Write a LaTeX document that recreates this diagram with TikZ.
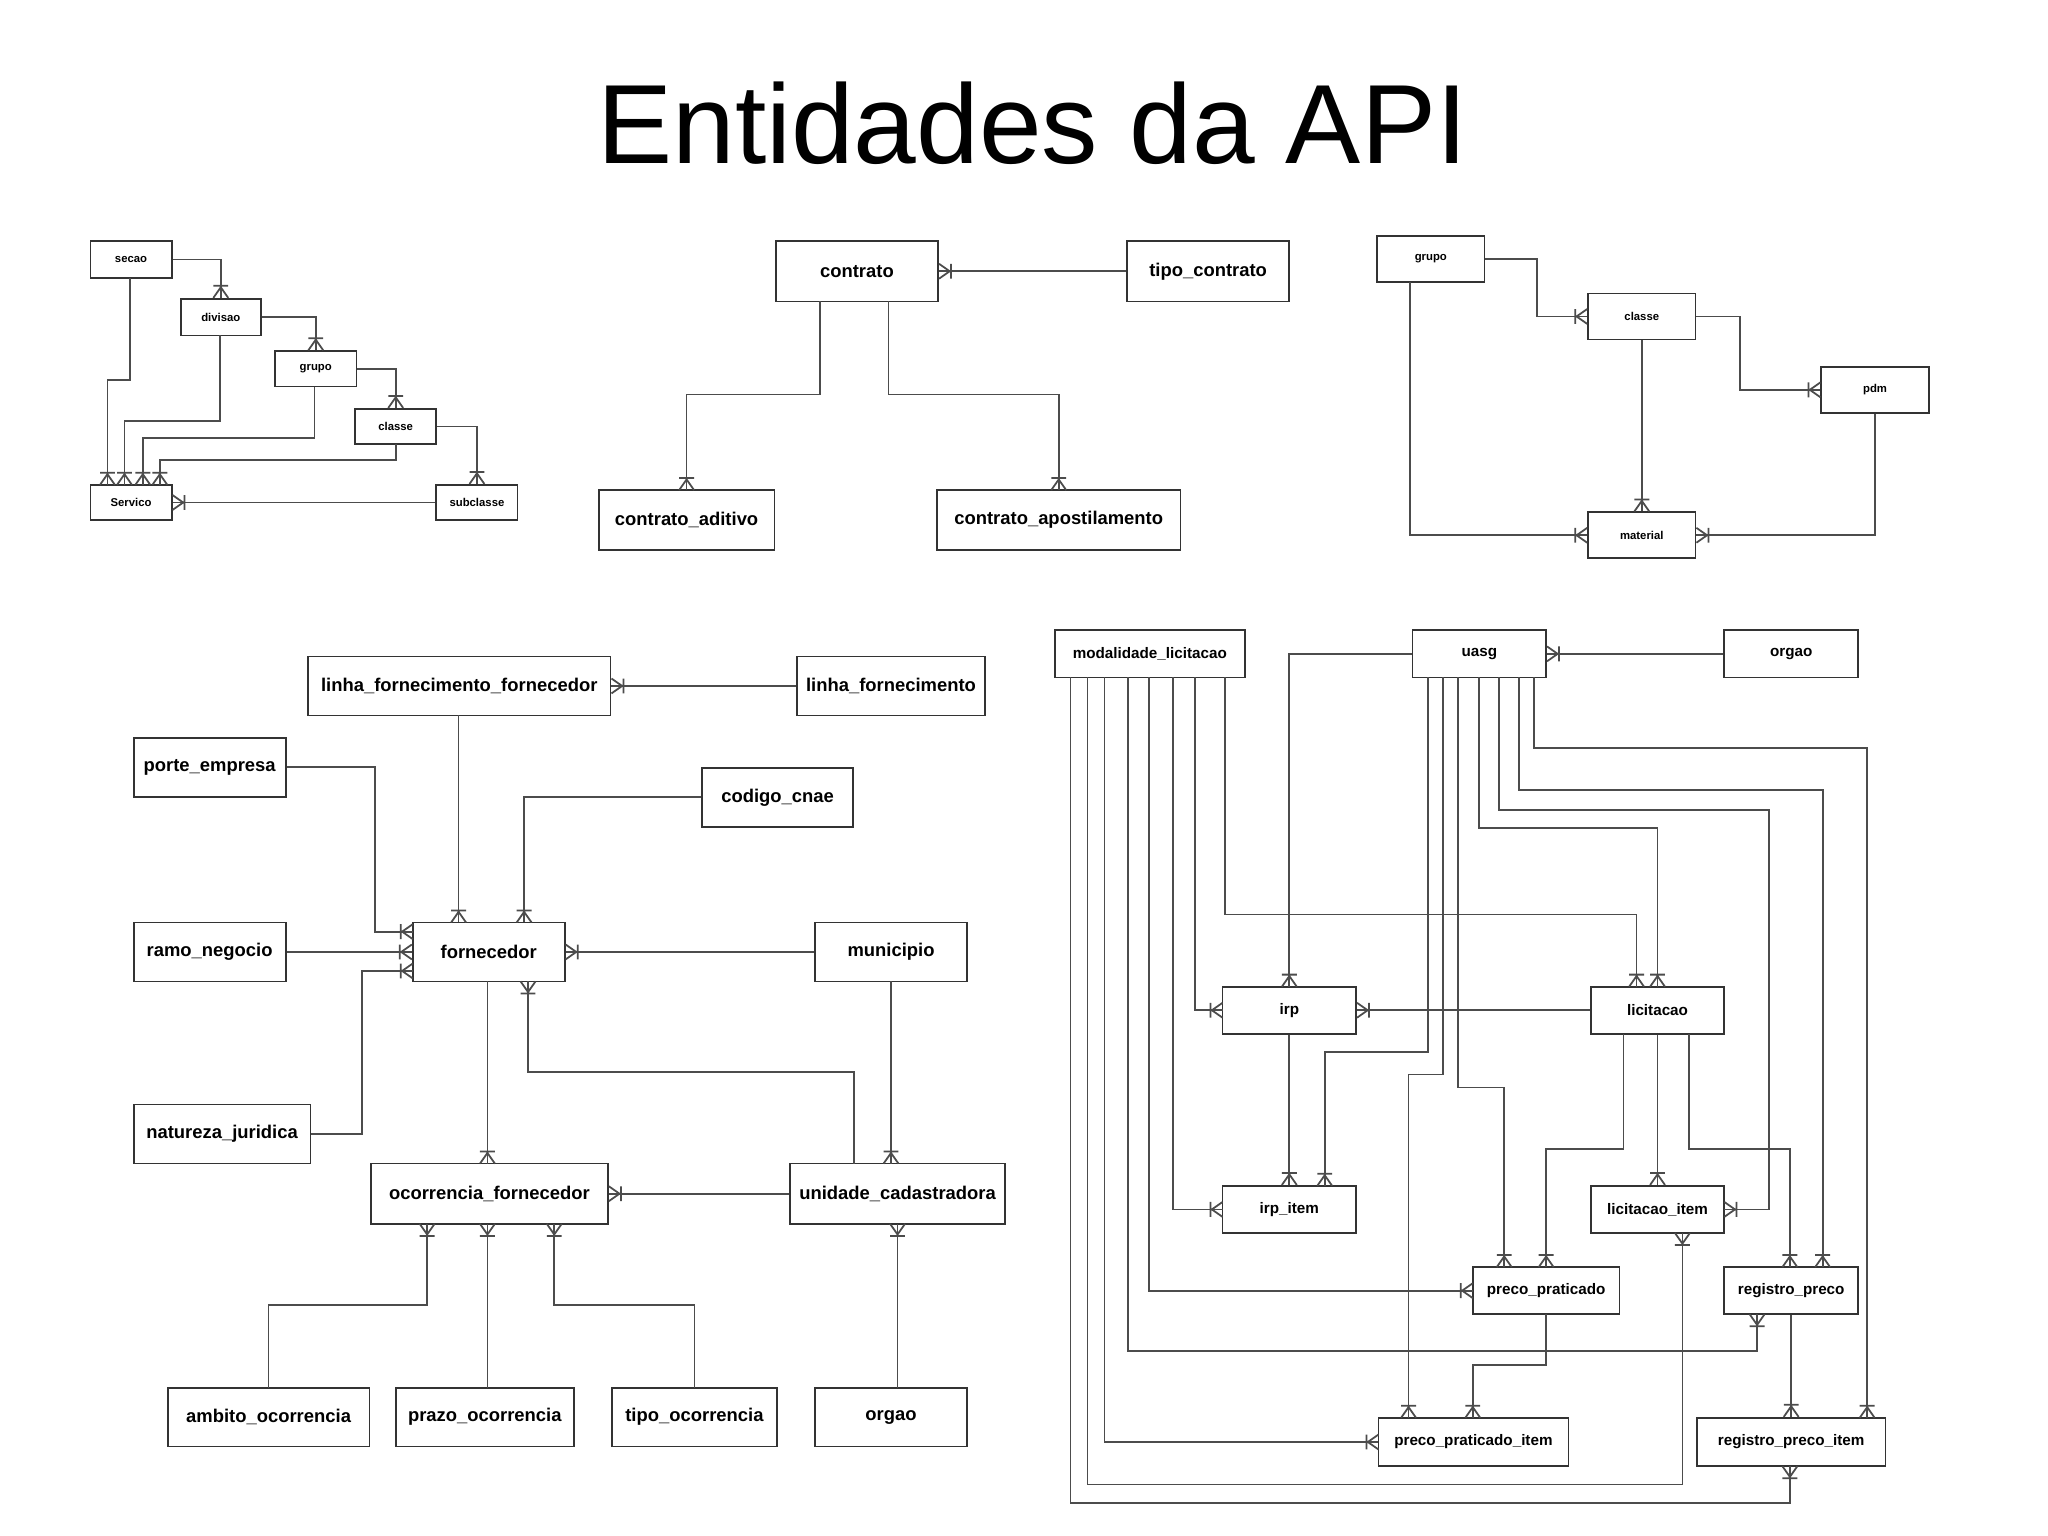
\documentclass[tikz,border=0pt]{standalone}
\usepackage{fontspec}
\setmainfont{Liberation Sans}
\makeatletter
\pgfdeclarearrow{
  name=CF,
  setup code={\pgfarrowssettipend{0pt}\pgfarrowssetlineend{0pt}\pgfarrowssetbackend{-3.6pt}\pgfarrowssetvisualbackend{-3.6pt}},
  drawing code={
    \pgfsetdash{}{0pt}
    \pgfpathmoveto{\pgfqpoint{-3pt}{0pt}}\pgfpathlineto{\pgfqpoint{0pt}{2.1pt}}
    \pgfpathmoveto{\pgfqpoint{-3pt}{0pt}}\pgfpathlineto{\pgfqpoint{0pt}{-2.1pt}}
    \pgfpathmoveto{\pgfqpoint{-3.4pt}{2.1pt}}\pgfpathlineto{\pgfqpoint{-3.4pt}{-2.1pt}}
    \pgfusepathqstroke}
}
\makeatother
\tikzset{
  box/.style={draw=black!80,line width=0.5pt,inner sep=0pt,font=\bfseries\fontsize{5.2}{6}\selectfont,fill=white},
  sm/.style={font=\bfseries\fontsize{3.2}{4}\selectfont},
  md/.style={font=\bfseries\fontsize{4.3}{5}\selectfont},
  ln/.style={draw=black!70,line width=0.5pt},
  cf/.style={ln,-CF},
}
\newcommand\ent[7][]{%
  \pgfmathsetmacro\cx{(#3+#5)/2}\pgfmathsetmacro\cy{(#4+#6)/2}%
  \pgfmathsetmacro\ww{(#5-#3)*0.013}\pgfmathsetmacro\hh{(#6-#4)*0.013}%
  \node[box,#1,minimum width=\ww cm,minimum height=\hh cm] (#2) at (\cx,\cy) {#7};}
\begin{document}
\begin{tikzpicture}[x=0.013cm,y=-0.013cm]
\useasboundingbox[fill=white] (0,0) rectangle (1563,1171.5);
\node[font=\fontsize{31.8}{34}\selectfont,anchor=base] (title) at (788,125) {Entidades da API};

% ---- top left
\ent[sm]{secao}{69}{184}{131}{212}{secao}
\ent[sm]{divisao}{138}{228}{199}{256}{divisao}
\ent[sm]{grupoA}{210}{268}{272}{295}{grupo}
\ent[sm]{classeA}{271}{312}{333}{339}{classe}
\ent[sm]{servico}{69}{370}{131}{397}{Servico}
\ent[sm]{subclasse}{333}{370}{395}{397}{subclasse}
\draw[cf] (secao.east) -| (divisao.north);
\draw[cf] (divisao.east) -| (grupoA.north);
\draw[cf] (grupoA.east) -| (classeA.north);
\draw[cf] (classeA.east) -| (subclasse.north);
\draw[cf] (99,212) -- (99,290) -- (82,290) -- (82,370);
\draw[cf] (168,256) -- (168,321) -- (95,321) -- (95,370);
\draw[cf] (240,295) -- (240,334) -- (109,334) -- (109,370);
\draw[cf] (302,339) -- (302,351) -- (122,351) -- (122,370);
\draw[cf] (subclasse.west) -- (servico.east);

% ---- contrato
\ent{contrato}{592}{184}{716}{230}{contrato}
\ent{tipocontrato}{860}{184}{984}{230}{tipo\_contrato}
\ent{aditivo}{457}{374}{591}{420}{contrato\_aditivo}
\ent{apost}{715}{374}{901}{420}{contrato\_apostilamento}
\draw[cf] (tipocontrato.west) -- (contrato.east);
\draw[cf] (626,230) -- (626,301) -- (524,301) -- (524,374);
\draw[cf] (678,230) -- (678,301) -- (808,301) -- (808,374);

% ---- top right
\ent[sm]{grupoB}{1051}{180}{1133}{215}{grupo}
\ent[sm]{classeB}{1212}{224}{1294}{259}{classe}
\ent[sm]{pdm}{1390}{280}{1472}{315}{pdm}
\ent[sm]{material}{1212}{391}{1294}{426}{material}
\draw[cf] (grupoB.east) -- (1173,197.5) |- (classeB.west);
\draw[cf] (classeB.east) -- (1328,241.5) |- (pdm.west);
\draw[cf] (classeB.south) -- (material.north);
\draw[cf] (1076,215) |- (material.west);
\draw[cf] (pdm.south) |- (material.east);

% ---- fornecedor
\ent{lff}{235}{501}{466}{546}{linha\_fornecimento\_fornecedor}
\ent{lf}{608}{501}{752}{546}{linha\_fornecimento}
\ent{porte}{102}{563}{218}{608}{porte\_empresa}
\ent{cnae}{536}{586}{651}{631}{codigo\_cnae}
\ent{ramo}{102}{704}{218}{749}{ramo\_negocio}
\ent{forn}{315}{704}{431}{749}{fornecedor}
\ent{municipio}{622}{704}{738}{749}{municipio}
\ent{natureza}{102}{843}{237}{888}{natureza\_juridica}
\ent{ocor}{283}{888}{464}{934}{ocorrencia\_fornecedor}
\ent{unid}{603}{888}{767}{934}{unidade\_cadastradora}
\ent{ambito}{128}{1059}{282}{1104}{ambito\_ocorrencia}
\ent{prazo}{302}{1059}{438}{1104}{prazo\_ocorrencia}
\ent{tipoocor}{467}{1059}{593}{1104}{tipo\_ocorrencia}
\ent{orgaoA}{622}{1059}{738}{1104}{orgao}
\draw[cf] (lf.west) -- (lff.east);
\draw[cf] (350,546) -- (350,704);
\draw[cf] (cnae.west) -- (400,608.5) -- (400,704);
\draw[cf] (porte.east) -- (286,585.5) -- (286,711) -- (315,711);
\draw[cf] (ramo.east) -- (forn.west);
\draw[cf] (natureza.east) -- (276,865.5) -- (276,741) -- (315,741);
\draw[cf] (municipio.west) -- (forn.east);
\draw[cf] (680,749) -- (680,888);
\draw[cf] (652,888) -- (652,818) -- (403,818) -- (403,749);
\draw[cf] (372,749) -- (372,888);
\draw[cf] (unid.west) -- (ocor.east);
\draw[cf] (685,1059) -- (685,934);
\draw[cf] (205,1059) -- (205,996) -- (326,996) -- (326,934);
\draw[cf] (372,1059) -- (372,934);
\draw[cf] (530,1059) -- (530,996) -- (423,996) -- (423,934);

% ---- licitacao
\ent[md]{modal}{805}{481}{950}{517}{modalidade\_licitacao}
\ent[md]{uasg}{1078}{481}{1180}{517}{uasg}
\ent[md]{orgaoB}{1316}{481}{1418}{517}{orgao}
\ent[md]{irp}{933}{753}{1035}{789}{irp}
\ent[md]{licit}{1214}{753}{1316}{789}{licitacao}
\ent[md]{irpitem}{933}{905}{1035}{941}{irp\_item}
\ent[md]{licitem}{1214}{905}{1316}{941}{licitacao\_item}
\ent[md]{pp}{1124}{967}{1236}{1003}{preco\_praticado}
\ent[md]{rp}{1316}{967}{1418}{1003}{registro\_preco}
\ent[md]{ppi}{1052}{1082}{1197}{1119}{preco\_praticado\_item}
\ent[md]{rpi}{1295}{1082}{1439}{1119}{registro\_preco\_item}
\draw[cf] (orgaoB.west) -- (uasg.east);
\draw[cf] (uasg.west) -- (984,499) -- (984,753);
% modalidade lines
\draw[cf] (935,517) -- (935,698) -- (1249,698) -- (1249,753);
\draw[cf] (912,517) -- (912,771) -- (933,771);
\draw[cf] (895,517) -- (895,923) -- (933,923);
\draw[cf] (877,517) -- (877,985) -- (1124,985);
\draw[cf] (861,517) -- (861,1031) -- (1341,1031) -- (1341,1003);
\draw[cf] (843,517) -- (843,1100.5) -- (1052,1100.5);
\draw[cf] (830,517) -- (830,1133) -- (1284,1133) -- (1284,941);
\draw[cf] (817,517) -- (817,1147) -- (1366,1147) -- (1366,1119);
% uasg lines
\draw[cf] (1090,517) -- (1090,803) -- (1011,803) -- (1011,905);
\draw[cf] (1101,517) -- (1101,820) -- (1075,820) -- (1075,1082);
\draw[cf] (1113,517) -- (1113,830) -- (1148,830) -- (1148,967);
\draw[cf] (1129,517) -- (1129,632) -- (1265,632) -- (1265,753);
\draw[cf] (1144,517) -- (1144,618) -- (1350,618) -- (1350,923) -- (1316,923);
\draw[cf] (1159,517) -- (1159,603) -- (1391,603) -- (1391,967);
\draw[cf] (1171,517) -- (1171,571) -- (1425,571) -- (1425,1082);
% licitacao etc
\draw[cf] (licit.west) -- (irp.east);
\draw[cf] (irp.south) -- (irpitem.north);
\draw[cf] (1239,789) -- (1239,877) -- (1180,877) -- (1180,967);
\draw[cf] (licit.south) -- (licitem.north);
\draw[cf] (1289,789) -- (1289,877) -- (1366,877) -- (1366,967);
\draw[cf] (1180,1003) -- (1180,1042) -- (1124,1042) -- (1124,1082);
\draw[cf] (rp.south) -- (rpi.north);
\end{tikzpicture}
\end{document}
